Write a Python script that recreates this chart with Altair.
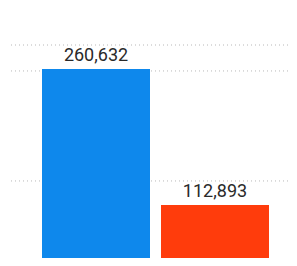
import altair as alt
import pandas as pd

categories = ["A", "B"]
values = [260632, 112893]
labels = ["260,632", "112,893"]
colors = ["#0e88ec", "#ff3c0c"]
guide_values = [286700, 258500, 139000]

bars_df = pd.DataFrame({"cat": categories, "value": values, "label": labels})
guides_df = pd.DataFrame({"g": guide_values})

y_scale = alt.Scale(domain=[55300, 326900], nice=False, zero=False)
x_scale = alt.Scale(domain=categories, range=[33, 260], paddingInner=0.0924, paddingOuter=0)

rules = alt.Chart(guides_df).mark_rule(color="#b8b8b8", strokeDash=[1, 3], strokeWidth=1).encode(
    y=alt.Y("g:Q", scale=y_scale, axis=None)
)

bars = alt.Chart(bars_df).mark_bar(clip=True).encode(
    x=alt.X("cat:N", scale=x_scale, axis=None),
    y=alt.Y("value:Q", scale=y_scale, axis=None),
    color=alt.Color("cat:N", scale=alt.Scale(domain=categories, range=colors), legend=None),
)

text = alt.Chart(bars_df).mark_text(
    baseline="bottom", dy=-4, fontSize=18, font="Roboto", color="#2a2a2a"
).encode(
    x=alt.X("cat:N", scale=x_scale, axis=None),
    y=alt.Y("value:Q", scale=y_scale, axis=None),
    text="label:N",
)

chart = alt.layer(rules, bars, text).properties(
    width=281, height=250, padding=0,
    autosize=alt.AutoSizeParams(type="fit", contains="padding"),
    background="white",
).configure_view(stroke=None)

chart.save("out.html", embed_options={"renderer": "svg", "actions": False})
